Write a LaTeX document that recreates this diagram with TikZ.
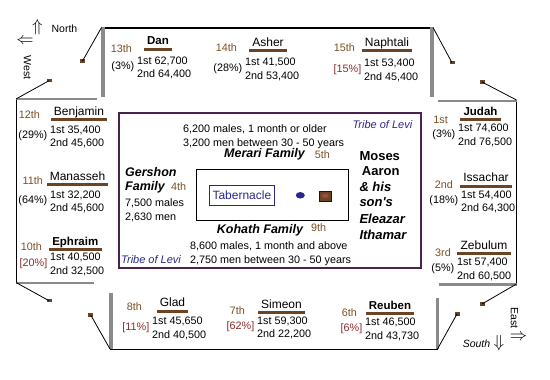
\documentclass[tikz,border=0pt]{standalone}
\usepackage{fontspec}
\setmainfont{Liberation Sans}
\usetikzlibrary{positioning,shapes.geometric}

\definecolor{ordbrown}{HTML}{7B4F23}
\definecolor{tribebrown}{HTML}{6B4426}
\definecolor{pctred}{HTML}{8B2A2A}
\definecolor{levipurple}{HTML}{4B2150}
\definecolor{levinavy}{HTML}{28288C}
\definecolor{campgray}{HTML}{8A8A8A}

\begin{document}
\begin{tikzpicture}[x=1pt,y=-1pt,
    txt/.style={inner sep=0pt, font=\fontsize{10.8}{12}\selectfont},
    ordtxt/.style={txt, text=ordbrown},
    tribeplain/.style={inner sep=0pt, font=\fontsize{12}{14}\selectfont},
    tribebold/.style={inner sep=0pt, font=\fontsize{11.5}{14}\selectfont\bfseries},
    family/.style={inner sep=0pt, anchor=base west, font=\fontsize{12.5}{14}\selectfont\bfseries\itshape},
    priest/.style={inner sep=0pt, anchor=base west, font=\fontsize{13}{15}\selectfont\bfseries},
    levitxt/.style={inner sep=0pt, anchor=base west, text=levinavy, font=\fontsize{11}{13}\selectfont\itshape},
    arrowsym/.style={inner sep=0pt, font=\fontsize{16}{16}\selectfont},
    tribeline/.style={tribebrown, line width=3pt},
    campline/.style={black, line width=1pt},
    gatebar/.style={campgray, line width=3.5pt},
    sidebar/.style={campgray, line width=2.5pt},
    stake/.style={fill=tribebrown, inner sep=0pt, minimum width=5pt, minimum height=3.5pt},
    guy/.style={black, line width=0.8pt}]

    \useasboundingbox (0,0) rectangle (550,380);

    % Camp corners
    \coordinate (tl) at (101.5,27.5);
    \coordinate (tr) at (433,27.5);
    \coordinate (lt) at (16,99);
    \coordinate (lb) at (16,282.5);
    \coordinate (bl) at (110,349);
    \coordinate (br) at (437.5,349);
    \coordinate (rb) at (516.5,284);
    \coordinate (rt) at (516.5,100);

    % Stakes
    \node[stake] (s1) at (82.5,61) {};
    \node[stake] (s2) at (49,80.7) {};
    \node[stake] (s3) at (49,300.7) {};
    \node[stake] (s4) at (90.7,315) {};
    \node[stake] (s5) at (457,314) {};
    \node[stake] (s6) at (482,304) {};
    \node[stake] (s7) at (482,82) {};
    \node[stake] (s8) at (452,62.7) {};

    % Outline
    \draw[campline, line width=2pt] (tl) -- (tr);
    \draw[campline] (lt) -- (lb);
    \draw[campline] (bl) -- (br);
    \draw[campline] (rt) -- (rb);
    \draw[gatebar] (103,27) -- (103,97);
    \draw[gatebar] (432,27) -- (432,97);
    \draw[sidebar] (16,99) -- (97,99);
    \draw[sidebar] (16,283) -- (94,283);
    \draw[gatebar] (111,293) -- (111,349);
    \draw[sidebar] (437.5,298) -- (437.5,349);
    \draw[sidebar] (439,284.5) -- (516.5,284.5);
    \draw[sidebar] (438,101) -- (516.5,101);

    % Guy lines
    \draw[guy] (tl) -- (s1.center);
    \draw[guy] (lt) -- (s2.center);
    \draw[guy] (lb) -- (s3.center);
    \draw[guy] (bl) -- (s4.center);
    \draw[guy] (br) -- (s5.center);
    \draw[guy] (rb) -- (s6.center);
    \draw[guy] (rt) -- (s7.center);
    \draw[guy] (tr) -- (s8.center);

    % Tribes
    \foreach \tid/\cx/\ny/\nx/\by/\ox/\oy/\onum/\tname/\tstyle/\pct/\pcol/\fst/\snd in {
        dan/158/45/137/64.2/132/52.7/13th/Dan/tribebold/(3\%)/black/{62,700}/{64,400},
        asher/268/46/245/65.9/237/51.7/14th/Asher/tribeplain/(28\%)/black/{41,500}/{53,400},
        naphtali/387/46/364/66.6/355/51/15th/Naphtali/tribeplain/[15\%]/pctred/{53,400}/{45,400},
        benjamin/79/115/50/133.2/40/118/12th/Benjamin/tribeplain/(29\%)/black/{35,400}/{45,600},
        manasseh/77.5/180/50/198/43/184/11th/Manasseh/tribeplain/(64\%)/black/{32,200}/{45,600},
        ephraim/75.3/245/50/260.6/42/250/10th/Ephraim/tribebold/[20\%]/pctred/{40,500}/{32,500},
        judah/480.5/115/458/131.6/448/123.3/1st/Judah/tribebold/(3\%)/black/{74,600}/{76,500},
        issachar/486/181.7/461/198.2/453/188/2nd/Issachar/tribeplain/(18\%)/black/{54,400}/{64,300},
        zebulum/484/249.3/457/265.6/451/256.7/3rd/Zebulum/tribeplain/(5\%)/black/{57,400}/{60,500},
        glad/172.5/306.7/152/324.6/142/310/8th/Glad/tribeplain/[11\%]/pctred/{45,650}/{40,500},
        simeon/281.5/308.3/257/324/245/314/7th/Simeon/tribeplain/[62\%]/pctred/{59,300}/{22,200},
        reuben/390/309.3/365/325.6/357/316/6th/Reuben/tribebold/[6\%]/pctred/{46,500}/{43,730}} {
        \node[ordtxt, anchor=base east] (\tid-o) at (\ox,\oy) {\onum};
        \node[\tstyle, anchor=base] (\tid-n) at (\cx,\ny) {\tname};
        \draw[tribeline] ([xshift=-3pt,yshift=-4.5pt]\tid-n.base west) -- ([xshift=3pt,yshift=-4.5pt]\tid-n.base east);
        \node[txt, anchor=base west] (\tid-a) at (\nx,\by) {1st \fst};
        \node[txt, anchor=base west] (\tid-b) at (\nx,\by+13.5) {2nd \snd};
        \node[txt, anchor=base east, text=\pcol] (\tid-p) at (\nx-2.5,\by+5.5) {\pct};
    }

    % Levi
    \node[draw=levipurple, line width=2pt, minimum width=302pt, minimum height=155pt, inner sep=0pt] (levi) at (270,190.5) {};
    \node[draw, line width=1pt, minimum width=151.6pt, minimum height=51.4pt, inner sep=0pt] (court) at (272.5,195) {};
    \node[draw=levinavy, line width=1pt, minimum width=65.7pt, minimum height=20.3pt, inner sep=0pt, text=levinavy, font=\fontsize{12}{14}\selectfont] (tabernacle) at (241.9,195.2) {Tabernacle};
    \node[ellipse, fill=levinavy, inner sep=0pt, minimum width=9pt, minimum height=6.5pt] (altar) at (300.3,195.3) {};
    \node[draw=black!70!tribebrown, fill=tribebrown, inner sep=0pt, minimum width=12.5pt, minimum height=10pt] (laver) at (325.3,195.7) {};
    \node[ellipse, fill=pctred!85!white, inner sep=0pt, minimum width=7pt, minimum height=4.5pt] (basin) at (laver.center) {};

    \node[levitxt] (levi-top) at (352.3,128.3) {Tribe of Levi};
    \node[levitxt] (levi-bot) at (121,263.3) {Tribe of Levi};

    \node[txt, anchor=base west] (merari-a) at (183,132.5) {6,200 males, 1 month or older};
    \node[txt, anchor=base west] (merari-b) at (183,146.5) {3,200 men between 30 - 50 years};
    \node[family] (merari) at (224,157.5) {Merari Family};
    \node[ordtxt, anchor=base west] (merari-o) at (314.7,158.3) {5th};

    \node[family] (gershon) at (125,176) {Gershon};
    \node[family] (gershon-f) at (125,190) {Family};
    \node[ordtxt, anchor=base west] (gershon-o) at (171,190) {4th};
    \node[txt, anchor=base west] (gershon-a) at (125,206.5) {7,500 males};
    \node[txt, anchor=base west] (gershon-b) at (125,220.7) {2,630 men};

    \node[family] (kohath) at (216.7,233.5) {Kohath Family};
    \node[ordtxt, anchor=base west] (kohath-o) at (311,231) {9th};
    \node[txt, anchor=base west] (kohath-a) at (190,249) {8,600 males, 1 month and above};
    \node[txt, anchor=base west] (kohath-b) at (190,263) {2,750 men between 30 - 50 years};

    \node[priest] (moses) at (359.3,160) {Moses};
    \node[priest] (aaron) at (361.7,175) {Aaron};
    \node[priest, font=\fontsize{13}{15}\selectfont\bfseries\itshape] (sons-a) at (359.3,191) {\& his};
    \node[priest, font=\fontsize{13}{15}\selectfont\bfseries\itshape] (sons-b) at (359.3,206.5) {son\textquotesingle s};
    \node[priest, font=\fontsize{13}{15}\selectfont\bfseries\itshape] (eleazar) at (359.3,223) {Eleazar};
    \node[priest, font=\fontsize{13}{15}\selectfont\bfseries\itshape] (ithamar) at (359.3,239) {Ithamar};

    % Compass
    \node[arrowsym] (north-arr) at (37.5,27.5) {$\Uparrow$};
    \node[txt, font=\fontsize{10.5}{12}\selectfont] (north) at (64.5,29) {North};
    \node[arrowsym] (west-arr) at (25,41.5) {$\Leftarrow$};
    \node[txt, font=\fontsize{10.5}{12}\selectfont, rotate=-90] (west) at (27.5,67.5) {West};
    \node[txt, font=\fontsize{10.5}{12}\selectfont, rotate=-90] (east) at (514.5,318) {East};
    \node[arrowsym] (east-arr) at (518.5,337) {$\Rightarrow$};
    \node[txt, font=\fontsize{10.5}{12}\selectfont\itshape] (south) at (476.5,344) {South};
    \node[arrowsym] (south-arr) at (499,343.5) {$\Downarrow$};

\end{tikzpicture}
\end{document}
